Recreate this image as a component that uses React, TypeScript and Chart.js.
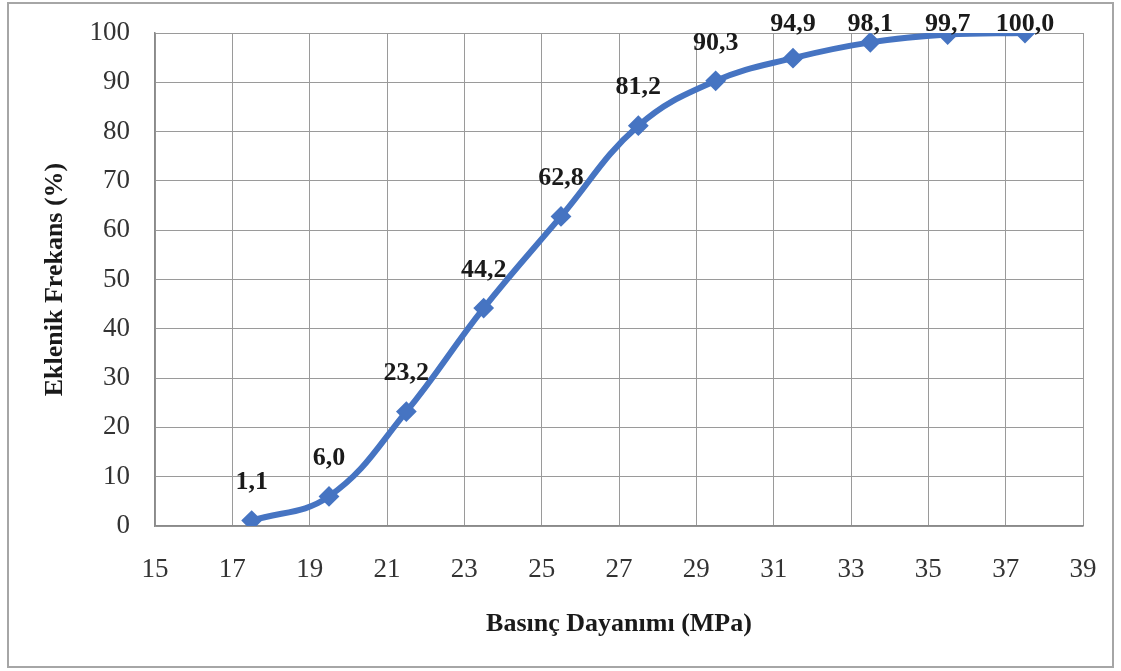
import React, { useEffect, useRef } from "react";
import { Chart, registerables } from "chart.js";

Chart.register(...registerables);

const xValues = [17.5, 19.5, 21.5, 23.5, 25.5, 27.5, 29.5, 31.5, 33.5, 35.5, 37.5];
const yValues = [1.1, 6.0, 23.2, 44.2, 62.8, 81.2, 90.3, 94.9, 98.1, 99.7, 100.0];
const xTitle = "Basınç Dayanımı (MPa)";
const yTitle = "Eklenik Frekans (%)";

const FONT = "'Liberation Serif', 'Times New Roman', serif";

const labelPlugin = {
  id: "pointLabels",
  afterDatasetsDraw(chart: any) {
    const ctx = chart.ctx;
    const meta = chart.getDatasetMeta(0);
    ctx.save();
    ctx.font = `bold 26px ${FONT}`;
    ctx.fillStyle = "#1a1a1a";
    ctx.textAlign = "center";
    ctx.textBaseline = "middle";
    meta.data.forEach((pt: any, i: number) => {
      const txt = yValues[i].toFixed(1).replace(".", ",");
      const y = Math.max(pt.y - 38, 24);
      ctx.fillText(txt, pt.x, y);
    });
    ctx.restore();
  },
};

export default function App() {
  const ref = useRef<HTMLCanvasElement | null>(null);

  useEffect(() => {
    if (!ref.current) return;
    const chart = new Chart(ref.current, {
      type: "line",
      data: {
        datasets: [
          {
            data: xValues.map((x, i) => ({ x, y: yValues[i] })),
            borderColor: "#4674C2",
            backgroundColor: "#4674C2",
            borderWidth: 6,
            tension: 0.4,
            pointStyle: "rectRot",
            pointRadius: 9,
            pointBorderWidth: 2,
            pointBackgroundColor: "#4674C2",
            pointBorderColor: "#4674C2",
            fill: false,
          },
        ],
      },
      options: {
        animation: false,
        responsive: false,
        devicePixelRatio: 1,
        layout: { padding: { top: 33, right: 38, left: 0, bottom: 0 } },
        plugins: {
          legend: { display: false },
          tooltip: { enabled: false },
        },
        scales: {
          x: {
            type: "linear",
            min: 15,
            max: 39,
            ticks: {
              stepSize: 2,
              padding: 28,
              color: "#333",
              font: { family: FONT, size: 27 },
            },
            grid: { color: "#9a9a9a", lineWidth: 1, drawTicks: false },
            border: { color: "#8a8a8a", width: 1.5 },
            title: {
              display: true,
              text: xTitle,
              color: "#1a1a1a",
              font: { family: FONT, size: 26, weight: "bold" },
              padding: { top: 0, bottom: 31 },
            },
            afterFit: (s: any) => {
              s.height = 145;
              s.paddingLeft = 0;
              s.paddingRight = 0;
            },
          },
          y: {
            min: 0,
            max: 100,
            ticks: {
              stepSize: 10,
              padding: 25,
              color: "#333",
              font: { family: FONT, size: 27 },
            },
            grid: { color: "#9a9a9a", lineWidth: 1, drawTicks: false },
            border: { color: "#8a8a8a", width: 1.5 },
            title: {
              display: true,
              text: yTitle,
              color: "#1a1a1a",
              font: { family: FONT, size: 26, weight: "bold" },
              padding: { top: 40, bottom: 0 },
            },
            afterFit: (s: any) => {
              s.width = 155;
              s.paddingTop = 0;
              s.paddingBottom = 0;
            },
          },
        },
      },
      plugins: [labelPlugin],
    } as any);
    return () => chart.destroy();
  }, []);

  return (
    <div
      style={{
        position: "fixed",
        left: 0,
        top: 0,
        width: 1121,
        height: 671,
        background: "#fff",
      }}
    >
      <div
        style={{
          position: "absolute",
          left: 7,
          top: 2,
          width: 1107,
          height: 666,
          border: "2px solid #a6a6a6",
          boxSizing: "border-box",
        }}
      />
      <canvas
        ref={ref}
        width={1121}
        height={671}
        style={{ position: "absolute", left: 0, top: 0 }}
      />
    </div>
  );
}
